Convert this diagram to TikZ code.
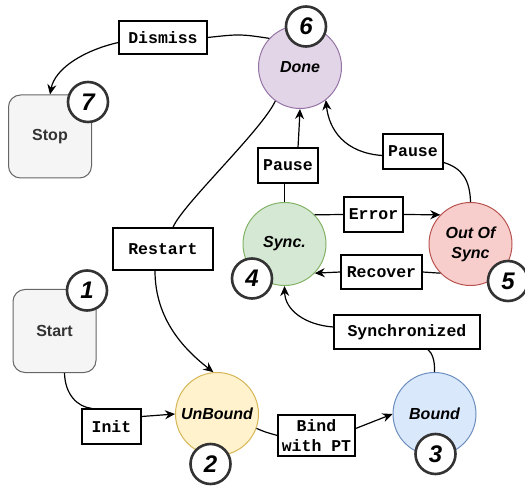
\documentclass[tikz,border=0pt]{standalone}
\usepackage{fontspec}
\setmainfont{Liberation Sans}
\newfontfamily\courfont{Liberation Mono}
\usetikzlibrary{arrows.meta}

\definecolor{doneFill}{HTML}{E1D5E7}
\definecolor{doneLine}{HTML}{9673A6}
\definecolor{syncFill}{HTML}{D5E8D4}
\definecolor{syncLine}{HTML}{82B366}
\definecolor{oosFill}{HTML}{F8CECC}
\definecolor{oosLine}{HTML}{B85450}
\definecolor{unbFill}{HTML}{FFF2CC}
\definecolor{unbLine}{HTML}{D6B656}
\definecolor{bndFill}{HTML}{DAE8FC}
\definecolor{bndLine}{HTML}{6C8EBF}
\definecolor{termFill}{HTML}{F5F5F5}
\definecolor{termLine}{HTML}{666666}
\definecolor{termText}{HTML}{333333}
\definecolor{badgeLine}{HTML}{333333}

\tikzset{
    state/.style={circle, draw, line width=1pt, minimum size=83pt, inner sep=0pt,
        align=center, font=\fontsize{16}{20}\selectfont\bfseries\itshape},
    term/.style={rectangle, rounded corners=12pt, draw=termLine, fill=termFill,
        line width=1pt, minimum width=83pt, minimum height=83pt, text=termText,
        font=\fontsize{16}{20}\selectfont\bfseries},
    lbl/.style={rectangle, draw, fill=white, line width=1.3pt, inner sep=2pt,
        minimum height=35pt, align=center,
        font=\fontsize{16.5}{20.5}\selectfont\courfont\bfseries},
    badge/.style={circle, draw=badgeLine, fill=white, line width=2.6pt,
        minimum size=40pt, inner sep=0pt,
        font=\fontsize{24}{24}\selectfont\bfseries\itshape},
    link/.style={line width=1.2pt},
    arr/.style={link, -{Stealth[length=10pt,width=9pt]}}
}

\begin{document}
\begin{tikzpicture}[x=1pt,y=-1pt]
    \useasboundingbox (0,0) rectangle (525,489);

    %states
    \node[term] (stop) at (50,136.5) {Stop};
    \node[term] (start) at (54.5,331) {Start};
    \node[state, fill=doneFill, draw=doneLine] (done) at (300,67) {Done};
    \node[state, fill=syncFill, draw=syncLine] (sync) at (284.5,244) {Sync.};
    \node[state, fill=oosFill, draw=oosLine] (oos) at (470.5,244) {Out Of\\Sync};
    \node[state, fill=unbFill, draw=unbLine] (unbound) at (217,414) {UnBound};
    \node[state, fill=bndFill, draw=bndLine] (bound) at (434.5,414) {Bound};

    %edge labels
    \node[lbl, minimum width=88pt, minimum height=33pt] (dismiss) at (163,37.5) {Dismiss};
    \node[lbl, minimum width=100pt, minimum height=42pt] (restart) at (163,249) {Restart};
    \node[lbl, minimum width=59pt] (init) at (111.5,426.5) {Init};
    \node[lbl, minimum width=60pt] (pauseL) at (288,165.5) {Pause};
    \node[lbl, minimum width=60pt] (pauseR) at (413,151.5) {Pause};
    \node[lbl, minimum width=59pt] (error) at (373.5,214.5) {Error};
    \node[lbl, minimum width=81pt, minimum height=34pt] (recover) at (381.5,272) {Recover};
    \node[lbl, minimum width=146pt, minimum height=34pt] (synced) at (407,332) {Synchronized};
    \node[lbl, minimum width=77pt, minimum height=41pt] (bind) at (316.5,435.5) {Bind\\with PT};

    %transitions
    \draw[link] (done.137) .. controls (240,34) .. (dismiss.east);
    \draw[arr] ([yshift=-5pt]dismiss.west) .. controls (85,50) and (55,68) .. (stop.north);

    \draw[link] ([xshift=10pt]start.south) .. controls (65,395) and (78,407) .. ([xshift=-20pt]init.north);
    \draw[arr] ([yshift=10pt]init.east) -- (unbound.west);

    \draw[link] (done.234) .. controls (262,130) and (182,205) .. ([xshift=10pt]restart.north);
    \draw[arr] ([xshift=-8pt]restart.south) .. controls (155,320) and (185,350) .. (unbound.95);

    \draw[link] (sync.north) -- (sync.north |- pauseL.south);
    \draw[arr] ([xshift=10pt]pauseL.north) .. controls (299,130) .. (done.south);

    \draw[link] (oos.north) .. controls (470,180) and (462,168) .. ([yshift=-11pt]pauseR.east);
    \draw[arr] ([yshift=-4pt]pauseR.west) .. controls (345,153) and (329,130) .. (done.-52);

    \draw[link] (sync.44) -- (error.west);
    \draw[arr] (error.east) -- (oos.136);

    \draw[link] (oos.224) -- (recover.east);
    \draw[arr] (recover.west) -- (sync.316);

    \draw[link] (bound.north) .. controls (435,360) and (432,353) .. ([xshift=21pt]synced.south);
    \draw[arr] ([yshift=5pt]synced.west) .. controls (305,325) and (285,310) .. (sync.south);

    \draw[link] (unbound.-20) .. controls (265,432) .. (bind.west);
    \draw[arr] ([yshift=7pt]bind.east) -- (bound.180);

    %numbers
    \foreach \num/\px/\py in {1/87/290.5, 2/210.5/464, 3/435.5/454, 4/252/278.5,
                              5/508/281, 6/306/26.5, 7/88/102}
    {
        \node[badge] (badge\num) at (\px,\py) {\num};
    }

\end{tikzpicture}
\end{document}
